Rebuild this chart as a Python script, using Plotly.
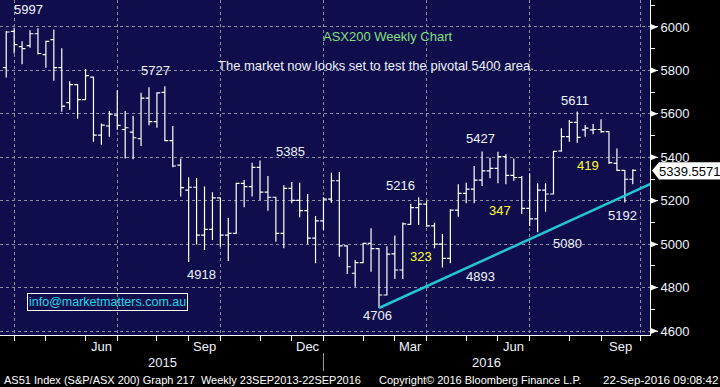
import plotly.graph_objects as go
import pandas as pd

# ---------------- data ----------------
dates = pd.date_range(end="2016-09-23", periods=80, freq="W-FRI")

opens = [5813, 5980, 5910, 5914, 5969, 5873, 5942, 5813, 5652, 5735,
         5666, 5769, 5502, 5544, 5594, 5528, 5516, 5486, 5672, 5564,
         5699, 5477, 5364, 5249, 5262, 5042, 5068, 5213, 5042, 5050,
         5280, 5265, 5354, 5240, 5216, 5050, 5257, 5202, 5154, 5028,
         5107, 5207, 5292, 4992, 4866, 4915, 5004, 4979, 4766, 4955,
         4881, 5091, 5168, 5184, 5084, 5000, 4935, 5157, 5234, 5253,
         5295, 5337, 5349, 5403, 5317, 5307, 5165, 5116, 5249, 5231,
         5429, 5495, 5561, 5526, 5526, 5528, 5518, 5372, 5340, 5299]
highs = [5982, 5997, 5934, 5985, 5994, 5937, 5989, 5902, 5750, 5738,
         5806, 5771, 5556, 5613, 5709, 5613, 5590, 5697, 5722, 5699,
         5727, 5544, 5395, 5308, 5305, 5265, 5239, 5215, 5120, 5283,
         5295, 5375, 5385, 5314, 5218, 5271, 5286, 5283, 5231, 5130,
         5216, 5329, 5332, 4995, 4927, 5007, 5073, 4982, 4990, 5040,
         5100, 5185, 5216, 5199, 5099, 5047, 5161, 5276, 5283, 5360,
         5427, 5398, 5426, 5414, 5395, 5314, 5326, 5280, 5280, 5429,
         5534, 5572, 5611, 5549, 5553, 5575, 5520, 5441, 5341, 5345]
lows = [5767, 5878, 5829, 5904, 5873, 5812, 5752, 5610, 5619, 5577,
        5664, 5472, 5458, 5495, 5527, 5395, 5391, 5452, 5547, 5536,
        5474, 5354, 5219, 4918, 4999, 4973, 5019, 4988, 4922, 5048,
        5170, 5220, 5203, 5154, 5011, 4981, 5188, 5124, 5001, 4912,
        5065, 5191, 4942, 4863, 4804, 4912, 4873, 4706, 4764, 4840,
        4840, 5089, 5088, 5080, 4981, 4893, 4912, 5126, 5188, 5188,
        5268, 5303, 5280, 5276, 5292, 5139, 5084, 5055, 5149, 5229,
        5426, 5472, 5467, 5495, 5506, 5513, 5369, 5337, 5192, 5276]
closes = [5977, 5919, 5900, 5969, 5878, 5934, 5813, 5636, 5735, 5666,
          5776, 5502, 5548, 5599, 5547, 5536, 5490, 5672, 5564, 5697,
          5477, 5360, 5260, 5262, 5042, 5068, 5213, 5042, 5050, 5280,
          5265, 5354, 5240, 5216, 5050, 5257, 5202, 5154, 5028, 5107,
          5207, 5292, 4992, 4896, 4915, 5004, 4979, 4766, 4954, 4881,
          5093, 5168, 5184, 5084, 5000, 4935, 5157, 5234, 5253, 5295,
          5337, 5349, 5403, 5317, 5307, 5165, 5116, 5249, 5231, 5427,
          5495, 5561, 5492, 5534, 5528, 5518, 5375, 5340, 5299, 5339.5571]

# support trend line (from the 4706 low)
trend_dates = ["2016-02-12", "2016-10-14"]
trend_values = [4706, 5290]

# axis ticks
y_ticks = [4600, 4800, 5000, 5200, 5400, 5600, 5800, 6000]
month_end_ticks = ["2015-03-27", "2015-04-24", "2015-05-29", "2015-06-26", "2015-07-31",
                   "2015-08-28", "2015-09-25", "2015-10-30", "2015-11-27", "2015-12-25",
                   "2016-01-29", "2016-02-26", "2016-03-25", "2016-04-29", "2016-05-27",
                   "2016-06-24", "2016-07-29", "2016-08-26", "2016-09-30"]
quarter_ticks = ["2015-03-27", "2015-06-26", "2015-09-25", "2015-12-25",
                 "2016-03-25", "2016-06-24", "2016-09-30"]
month_labels = ["Jun", "Sep", "Dec", "Mar", "Jun", "Sep"]
month_label_dates = ["2015-06-12", "2015-09-11", "2015-12-11",
                     "2016-03-11", "2016-06-10", "2016-09-12"]
year_labels = ["2015", "2016"]

# ---------------- style ----------------
FONT = "Liberation Sans, Arial, sans-serif"
BG = "#0f0d4b"
GRID = "#8f8f9f"
WHITE = "#eef3ff"
PW, PH = 650, 335


def px(x):
    return x / PW


def py(y):
    return 1 - y / PH


fig = go.Figure()

fig.add_trace(go.Ohlc(
    x=dates, open=opens, high=highs, low=lows, close=closes,
    increasing=dict(line=dict(color="white", width=1.2)),
    decreasing=dict(line=dict(color="white", width=1.2)),
    tickwidth=0.42, showlegend=False, hoverinfo="skip"))

fig.add_trace(go.Scatter(
    x=trend_dates, y=trend_values, mode="lines",
    line=dict(color="#22c6d2", width=2.5), showlegend=False, hoverinfo="skip"))

x0 = dates[0] - pd.Timedelta(days=5.5)
x1 = dates[0] + pd.Timedelta(days=568.2)

fig.update_layout(
    width=720, height=387,
    margin=dict(l=0, r=70, t=0, b=52),
    paper_bgcolor="black", plot_bgcolor=BG,
    font=dict(family=FONT, size=13, color=WHITE),
    showlegend=False,
    xaxis=dict(
        type="date", range=[x0, x1],
        rangeslider=dict(visible=False),
        tickmode="array", tickvals=quarter_ticks, ticktext=["" for _ in quarter_ticks],
        ticks="outside", ticklen=5, tickcolor="white", tickwidth=1,
        showgrid=True, gridcolor=GRID, griddash="dot", gridwidth=1,
        showline=True, linecolor="white", linewidth=1,
        minor=dict(tickmode="array", tickvals=month_end_ticks, ticks="outside",
                   ticklen=5, tickcolor="white", tickwidth=1, showgrid=False),
        zeroline=False, fixedrange=True,
    ),
    yaxis=dict(
        side="right", range=[4581.7, 6124.3],
        tickmode="array", tickvals=y_ticks, ticktext=[str(v) for v in y_ticks],
        ticks="outside", ticklen=7, tickcolor="white", tickwidth=1,
        tickfont=dict(family=FONT, size=13, color=WHITE),
        showgrid=True, gridcolor=GRID, griddash="dot", gridwidth=1,
        showline=True, linecolor="white", linewidth=1,
        minor=dict(dtick=100, tick0=4600, ticks="outside", ticklen=4,
                   tickcolor="white", tickwidth=1, showgrid=False),
        zeroline=False, fixedrange=True,
    ),
)

shapes = []
# arrow markers on the price axis
for v in y_ticks:
    shapes.append(dict(type="path", xref="paper", yref="y",
                       path=f"M 1,{v - 15} L {1 + 8 / PW},{v} L 1,{v + 15} Z",
                       fillcolor="white", line=dict(width=0)))
# last price box
last = closes[-1]
shapes.append(dict(type="path", xref="paper", yref="y",
                   path=(f"M {1 + 2 / PW},{last} L {1 + 9 / PW},{last + 38} "
                         f"L {1 + 70 / PW},{last + 38} L {1 + 70 / PW},{last - 42} "
                         f"L {1 + 9 / PW},{last - 42} Z"),
                   fillcolor="white", line=dict(width=0)))
# year separator
shapes.append(dict(type="line", xref="x", yref="paper",
                   x0="2015-12-25", x1="2015-12-25", y0=py(353), y1=py(371),
                   line=dict(color="#9a9a9a", width=1)))
fig.update_layout(shapes=shapes)

ann = []
# last price text
ann.append(dict(text="5339.5571", xref="paper", yref="y", x=1 + 7 / PW, y=last - 3,
                xanchor="left", yanchor="middle", showarrow=False,
                font=dict(family=FONT, size=13, color="black")))
# month labels
for lab, d in zip(month_labels, month_label_dates):
    ann.append(dict(text=lab, xref="x", yref="paper", x=d, y=py(346.5),
                    xanchor="center", yanchor="middle", showarrow=False,
                    font=dict(family=FONT, size=13, color=WHITE)))
# year labels
for lab, xp in zip(year_labels, [162, 486]):
    ann.append(dict(text=lab, xref="paper", yref="paper", x=px(xp), y=py(362),
                    xanchor="center", yanchor="middle", showarrow=False,
                    font=dict(family=FONT, size=13, color=WHITE)))

# chart annotations: (text, x px, y px, color)
notes = [
    ("5997", 28, 10, WHITE),
    ("5727", 155, 71, WHITE),
    ("5385", 290, 151, WHITE),
    ("4918", 202, 274, WHITE),
    ("5216", 400, 185, WHITE),
    ("4706", 377, 315, WHITE),
    ("4893", 480, 276, WHITE),
    ("5427", 480, 138, WHITE),
    ("5080", 567, 243.5, WHITE),
    ("5611", 575, 100.5, WHITE),
    ("5192", 622, 215, WHITE),
    ("323", 421, 256, "#ffff30"),
    ("347", 500, 210, "#ffff30"),
    ("419", 587.5, 165.5, "#ffff30"),
    ("ASX200 Weekly Chart", 387.5, 36, "#80e080"),
    ("The market now looks set to test the pivotal 5400 area.", 376, 65, WHITE),
]
for t, xp, yp, c in notes:
    ann.append(dict(text=t, xref="paper", yref="paper", x=px(xp), y=py(yp),
                    xanchor="center", yanchor="middle", showarrow=False,
                    font=dict(family=FONT, size=13, color=c)))

# e-mail box
ann.append(dict(text="info@marketmatters.com.au", xref="paper", yref="paper",
                x=px(107.8), y=py(301.7), xanchor="center", yanchor="middle",
                showarrow=False, bordercolor="white", borderwidth=1, borderpad=1,
                font=dict(family=FONT, size=12.5, color="#20d8e8")))

# footer
footer = [
    ("AS51 Index (S&P/ASX 200) Graph 217  Weekly 23SEP2013-22SEP2016", 2, 11),
    ("Copyright\u00a9 2016 Bloomberg Finance L.P.", 377, 11),
    ("22-Sep-2016 09:08:42", 601, 11.6),
]
for t, xp, fs in footer:
    ann.append(dict(text=t, xref="paper", yref="paper", x=px(xp), y=py(379.5),
                    xanchor="left", yanchor="middle", showarrow=False,
                    font=dict(family=FONT, size=fs, color="white")))

fig.update_layout(annotations=ann)

fig.write_html("out.html",
               config={"displayModeBar": False},
               post_script="document.body.style.margin='0px';"
                           "document.body.style.background='black';")
